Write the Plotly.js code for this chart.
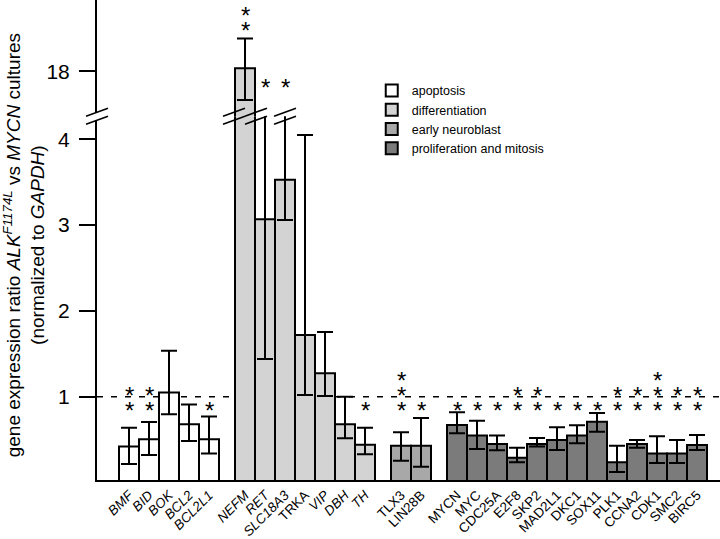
<!DOCTYPE html>
<html>
<head>
<meta charset="utf-8">
<script src="https://cdn.plot.ly/plotly-3.0.1.min.js"></script>
<style>html,body{margin:0;padding:0;background:#fff;}#chart{width:720px;height:539px;}</style>
</head>
<body>
<div id="chart"></div>
<script>
// ---------- data ----------
const groupNames = ['apoptosis', 'differentiation', 'early neuroblast', 'proliferation and mitosis'];

const apoptosisGenes = ['BMF', 'BID', 'BOK', 'BCL2', 'BCL2L1'];
const apoptosisValues = [0.42, 0.505, 1.05, 0.68, 0.505];
const apoptosisErrHigh = [0.64, 0.707, 1.536, 0.909, 0.77];
const apoptosisErrLow = [0.216, 0.32, 0.797, 0.485, 0.34];
const apoptosisStars = [2, 2, 0, 0, 1];

const differentiationGenes = ['NEFM', 'RET', 'SLC18A3', 'TRKA', 'VIP', 'DBH', 'TH'];
const differentiationValues = [18.08, 3.07, 3.53, 1.72, 1.275, 0.68, 0.44];
const differentiationErrHigh = [18.83, 4.6, 4.6, 4.05, 1.755, 1.0, 0.64];
const differentiationErrLow = [17.28, 1.44, 3.06, 1.02, 1.01, 0.516, 0.33];
const differentiationStars = [2, 1, 1, 0, 0, 0, 1];

const neuroblastGenes = ['TLX3', 'LIN28B'];
const neuroblastValues = [0.43, 0.43];
const neuroblastErrHigh = [0.586, 0.753];
const neuroblastErrLow = [0.255, 0.185];
const neuroblastStars = [3, 1];

const proliferationGenes = ['MYCN', 'MYC', 'CDC25A', 'E2F8', 'SKP2', 'MAD2L1', 'DKC1', 'SOX11', 'PLK1', 'CCNA2', 'CDK1', 'SMC2', 'BIRC5'];
const proliferationValues = [0.672, 0.55, 0.45, 0.29, 0.45, 0.496, 0.55, 0.71, 0.236, 0.45, 0.34, 0.34, 0.438];
const proliferationErrHigh = [0.82, 0.72, 0.55, 0.407, 0.52, 0.645, 0.668, 0.81, 0.43, 0.496, 0.54, 0.496, 0.555];
const proliferationErrLow = [0.575, 0.39, 0.376, 0.236, 0.42, 0.38, 0.458, 0.593, 0.123, 0.407, 0.228, 0.228, 0.38];
const proliferationStars = [1, 1, 1, 2, 2, 1, 1, 1, 2, 2, 3, 2, 2];

const italicGenes = ['BMF', 'BID', 'BOK', 'BCL2', 'BCL2L1', 'NEFM', 'RET', 'SLC18A3', 'VIP', 'DBH', 'TH'];
const yTickValsLower = [1, 2, 3, 4];
const yTickValsUpper = [18];
const threshold = 1;

// ---------- layout helpers ----------
const FONT = 'Arial, "Liberation Sans", Helvetica, sans-serif';
const groupColors = ['#ffffff', '#d3d3d3', '#a8a8a8', '#7b7b7b'];
const groupGap = 0.8;
const lowerRange = [0.03, 4.27];
const upperRange = [16.875, 19.8];
const breakFrac = 0.758;

const groups = [
  {genes: apoptosisGenes, v: apoptosisValues, hi: apoptosisErrHigh, lo: apoptosisErrLow, s: apoptosisStars},
  {genes: differentiationGenes, v: differentiationValues, hi: differentiationErrHigh, lo: differentiationErrLow, s: differentiationStars},
  {genes: neuroblastGenes, v: neuroblastValues, hi: neuroblastErrHigh, lo: neuroblastErrLow, s: neuroblastStars},
  {genes: proliferationGenes, v: proliferationValues, hi: proliferationErrHigh, lo: proliferationErrLow, s: proliferationStars}
];

let idx = 0;
groups.forEach((g, gi) => { g.x = g.genes.map(() => (idx++) + gi * groupGap); });

const traces = [];
groups.forEach((g, gi) => {
  const base = {
    type: 'bar', x: g.x, y: g.v, width: 1,
    marker: {color: groupColors[gi], line: {color: '#000', width: 2}},
    error_y: {type: 'data', symmetric: false,
      array: g.v.map((v, i) => g.hi[i] - v),
      arrayminus: g.v.map((v, i) => v - g.lo[i]),
      color: '#000', thickness: 2, width: 8},
    hoverinfo: 'skip'
  };
  traces.push(Object.assign({}, base, {name: groupNames[gi], xaxis: 'x', yaxis: 'y'}));
  if (g.hi.some(h => h > lowerRange[1])) {
    traces.push(Object.assign({}, base, {name: groupNames[gi], xaxis: 'x', yaxis: 'y2', showlegend: false}));
  }
});

const allX = [].concat(...groups.map(g => g.x));
const allGenes = [].concat(...groups.map(g => g.genes));
const tickText = allGenes.map(n => italicGenes.includes(n) ? '<i>' + n + '</i>' : n);

// significance stars: one stacked text per gene, tight line spacing via small base font
const annotations = [];
groups.forEach(g => {
  g.genes.forEach((n, i) => {
    const count = g.s[i];
    if (!count) return;
    const broken = g.hi[i] > lowerRange[1];
    const y = broken ? Math.max(g.hi[i], upperRange[0] + 0.5) + 0.3 : 0.885;
    const star = '<span style="font-size:24px">*</span>';
    annotations.push({x: g.x[i], y: y, xref: 'x', yref: broken ? 'y2' : 'y',
      text: Array(count).fill(star).join('<br>'), showarrow: false,
      font: {family: FONT, size: 11.5, color: '#000'},
      xanchor: 'center', yanchor: 'bottom', yshift: -19});
  });
});

annotations.push({
  xref: 'paper', yref: 'paper', x: -0.1164, y: 0.49, xanchor: 'center', yanchor: 'middle',
  textangle: -90, showarrow: false,
  text: 'gene expression ratio <i>ALK</i><sup><i>F1174L</i></sup> vs <i>MYCN</i> cultures<br>(normalized to <i>GAPDH</i>)',
  font: {family: FONT, size: 19, color: '#000'}
});

const xRange = [-1.6, allX[allX.length - 1] + 1.15];

// break marks
function slashPair(xref, xanchor, white) {
  const out = [];
  const common = {xref: xref, xsizemode: 'pixel', xanchor: xanchor, yref: 'paper', ysizemode: 'pixel', yanchor: breakFrac, layer: 'above'};
  if (white) out.push(Object.assign({type: 'path', path: 'M-12,-8L12,0L12,8L-12,0Z', fillcolor: '#fff', line: {width: 0}}, common));
  out.push(Object.assign({type: 'line', x0: -11, y0: 0, x1: 11, y1: 8, line: {color: '#000', width: 1.6}}, common));
  out.push(Object.assign({type: 'line', x0: -11, y0: -8, x1: 11, y1: 0, line: {color: '#000', width: 1.6}}, common));
  return out;
}
const diffX = groups[1].x;
const shapes = [
  {type: 'line', xref: 'x', yref: 'y', x0: xRange[0], x1: xRange[1], y0: threshold, y1: threshold,
   line: {color: '#000', width: 1.5, dash: '6px,8px'}, layer: 'below'},
  ...slashPair('paper', 0, true),
  ...slashPair('x', diffX[0] - 0.55, false),
  ...slashPair('x', diffX[0] + 0.55, false),
  ...slashPair('x', diffX[2], false)
];

const layout = {
  width: 720, height: 539,
  margin: {l: 97, r: 0, t: 0, b: 59},
  paper_bgcolor: '#fff', plot_bgcolor: '#fff',
  font: {family: FONT, color: '#000'},
  barmode: 'overlay',
  showlegend: true,
  legend: {x: 0.441, y: 0.842, xanchor: 'left', yanchor: 'top', font: {family: FONT, size: 12.5, color: '#000'},
           bgcolor: 'rgba(0,0,0,0)', tracegroupgap: 0},
  xaxis: {range: xRange, showgrid: false, zeroline: false, showline: true, linecolor: '#000', linewidth: 2,
          ticks: '', tickmode: 'array', tickvals: allX, ticktext: tickText, tickangle: -45,
          tickfont: {family: FONT, size: 13.5, color: '#000'}, anchor: 'y', fixedrange: true},
  yaxis: {domain: [0, breakFrac], range: lowerRange, showgrid: false, zeroline: false, showline: true,
          linecolor: '#000', linewidth: 2, ticks: 'outside', ticklen: 16, tickwidth: 2, tickcolor: '#000',
          tickmode: 'array', tickvals: yTickValsLower, ticklabelstandoff: 5,
          tickfont: {family: FONT, size: 21, color: '#000'}, anchor: 'x'},
  yaxis2: {domain: [breakFrac, 1], range: upperRange, showgrid: false, zeroline: false, showline: true,
          linecolor: '#000', linewidth: 2, ticks: 'outside', ticklen: 16, tickwidth: 2, tickcolor: '#000',
          tickmode: 'array', tickvals: yTickValsUpper, ticklabelstandoff: 5,
          tickfont: {family: FONT, size: 21, color: '#000'}, anchor: 'x'},
  annotations: annotations,
  shapes: shapes
};

Plotly.newPlot('chart', traces, layout, {staticPlot: true, displayModeBar: false});
</script>
</body>
</html>
